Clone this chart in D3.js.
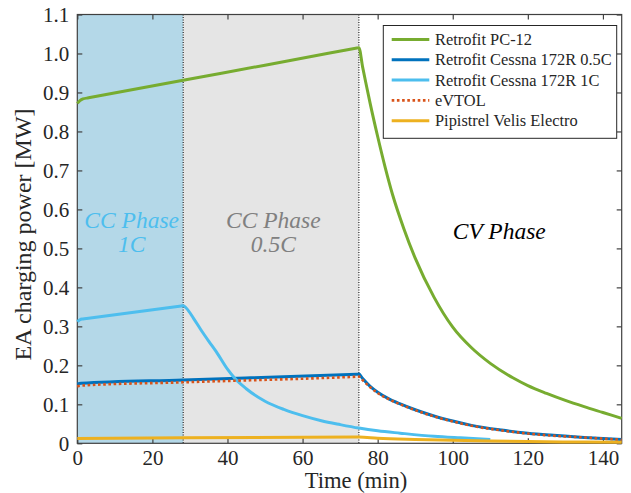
<!DOCTYPE html>
<meta charset="utf-8">
<head>
  <style>
    body { margin: 0; background: #fff; }
    .axis path { display: none; }
    .axis line { stroke: #404040; stroke-width: 1.2; }
  </style>
  <script src="https://cdn.jsdelivr.net/npm/d3@7"></script>
</head>
<body>
<script>

// values (time in min, power in MW)
var pc12T = [0, 0.7, 1.5, 3, 28.2, 50, 74.5, 75, 76, 77, 78, 80, 82, 84, 87, 90, 95, 100, 105, 110, 116, 120, 125, 130, 135, 140, 145];
var pc12P = [0.872, 0.879, 0.8835, 0.8862, 0.9313, 0.9700, 1.0141, 1.015, 0.965, 0.918, 0.872, 0.787, 0.708, 0.637, 0.55, 0.475, 0.375, 0.298, 0.245, 0.205, 0.168, 0.148, 0.128, 0.110, 0.094, 0.079, 0.064];

var c05T = [0, 1, 28.2, 74.5, 75, 76, 78, 80, 83, 86, 90, 95, 100, 105, 113, 120, 126, 135, 145];
var c05P = [0.152, 0.154, 0.1627, 0.1773, 0.1775, 0.166, 0.146, 0.131, 0.114, 0.101, 0.086, 0.070, 0.057, 0.046, 0.034, 0.026, 0.021, 0.015, 0.0095];

var c1T = [0, 0.7, 1.5, 3, 27.7, 28.2, 29, 31, 33, 35, 37, 40, 42, 45, 50, 55, 60, 65, 70, 75, 80, 86, 95, 102, 110];
var c1P = [0.312, 0.317, 0.319, 0.3209, 0.3524, 0.353, 0.347, 0.320, 0.290, 0.262, 0.235, 0.190, 0.166, 0.140, 0.108, 0.087, 0.071, 0.058, 0.048, 0.039, 0.032, 0.026, 0.018, 0.014, 0.010];

var evtolT = [0, 1, 28.2, 74.5, 75, 76, 78, 80, 83, 86, 90, 95, 100, 105, 113, 120, 126, 135, 145];
var evtolP = [0.146, 0.148, 0.1565, 0.1708, 0.171, 0.162, 0.144, 0.129, 0.113, 0.100, 0.085, 0.069, 0.056, 0.045, 0.033, 0.025, 0.020, 0.015, 0.009];

var velisT = [0, 28.2, 74.5, 75, 80, 90, 100, 110, 120, 130, 145];
var velisP = [0.012, 0.014, 0.016, 0.016, 0.013, 0.010, 0.008, 0.006, 0.0045, 0.0035, 0.0025];

var seriesNames = ["Retrofit PC-12", "Retrofit Cessna 172R 0.5C", "Retrofit Cessna 172R 1C", "eVTOL", "Pipistrel Velis Electro"];
var seriesColors = ["#77ac30", "#0072bd", "#4dbeee", "#d95319", "#edb120"];

var phaseEdges = [0, 28.2, 75];
var xTicks = [0, 20, 40, 60, 80, 100, 120, 140];
var yTicks = [0, 0.1, 0.2, 0.3, 0.4, 0.5, 0.6, 0.7, 0.8, 0.9, 1.0, 1.1];

var serif = "'Liberation Serif', 'Times New Roman', Times, serif";
var width = 631, height = 493;
var pLeft = 77.3, pRight = 621.7, pTop = 14.5, pBottom = 443.3;

var svg = d3.select("body").append("svg")
    .attr("width", width)
    .attr("height", height)
    .style("font-family", serif);

var x = d3.scaleLinear().domain([0, 145]).range([pLeft, pRight]);
var y = d3.scaleLinear().domain([0, 1.1]).range([pBottom, pTop]);

// phase shading
svg.append("rect")
    .attr("x", x(phaseEdges[0])).attr("y", pTop)
    .attr("width", x(phaseEdges[1]) - x(phaseEdges[0])).attr("height", pBottom - pTop)
    .attr("fill", "#b4d8e8");
svg.append("rect")
    .attr("x", x(phaseEdges[1])).attr("y", pTop)
    .attr("width", x(phaseEdges[2]) - x(phaseEdges[1])).attr("height", pBottom - pTop)
    .attr("fill", "#e5e5e5");

[phaseEdges[1], phaseEdges[2]].forEach(function(t) {
  svg.append("line")
      .attr("x1", x(t)).attr("x2", x(t))
      .attr("y1", pTop).attr("y2", pBottom)
      .attr("stroke", "#000").attr("stroke-width", 1)
      .attr("stroke-dasharray", "1,1.5");
});

// axes (ticks point inward like MATLAB)
var gx = svg.append("g").attr("class", "axis")
    .attr("transform", "translate(0," + pBottom + ")")
    .call(d3.axisBottom(x).tickValues(xTicks).tickSizeInner(-5).tickSizeOuter(0).tickPadding(7));
svg.append("g").attr("class", "axis")
    .attr("transform", "translate(0," + pTop + ")")
    .call(d3.axisTop(x).tickValues(xTicks).tickSizeInner(-5).tickSizeOuter(0).tickFormat(""));
var gy = svg.append("g").attr("class", "axis")
    .attr("transform", "translate(" + pLeft + ",0)")
    .call(d3.axisLeft(y).tickValues(yTicks).tickSizeInner(-5).tickSizeOuter(0).tickPadding(8)
      .tickFormat(function(d) { return d === 0 ? "0" : d.toFixed(1); }));
svg.append("g").attr("class", "axis")
    .attr("transform", "translate(" + pRight + ",0)")
    .call(d3.axisRight(y).tickValues(yTicks).tickSizeInner(-5).tickSizeOuter(0).tickFormat(""));

[gx, gy].forEach(function(g) {
  g.attr("font-family", serif).attr("font-size", 21);
  g.selectAll("text").attr("fill", "#262626");
});

svg.append("rect")
    .attr("x", pLeft).attr("y", pTop)
    .attr("width", pRight - pLeft).attr("height", pBottom - pTop)
    .attr("fill", "none").attr("stroke", "#404040").attr("stroke-width", 1.2);

// curves
var line = d3.line()
    .x(function(d) { return x(d[0]); })
    .y(function(d) { return y(d[1]); })
    .curve(d3.curveMonotoneX);

var allT = [pc12T, c05T, c1T, evtolT, velisT];
var allP = [pc12P, c05P, c1P, evtolP, velisP];

allT.forEach(function(ts, i) {
  var pts = ts.map(function(t, j) { return [t, allP[i][j]]; });
  svg.append("path")
      .datum(pts)
      .attr("d", line)
      .attr("fill", "none")
      .attr("stroke", seriesColors[i])
      .attr("stroke-width", i == 3 ? 2.6 : 3)
      .attr("stroke-dasharray", i == 3 ? "2.6,2.6" : null)
      .attr("stroke-linejoin", "round");
});

// phase labels
var phaseText = [
  {lines: ["CC Phase", "1C"], cx: 131.7, color: "#4dbeee"},
  {lines: ["CC Phase", "0.5C"], cx: 273.3, color: "#808080"}
];
phaseText.forEach(function(p) {
  p.lines.forEach(function(s, k) {
    svg.append("text")
        .attr("x", p.cx).attr("y", 228 + k * 24)
        .attr("text-anchor", "middle")
        .style("font-family", serif).style("font-style", "italic").style("font-size", "23.5px")
        .attr("fill", p.color)
        .text(s);
  });
});
svg.append("text")
    .attr("x", 499.3).attr("y", 239)
    .attr("text-anchor", "middle")
    .style("font-family", serif).style("font-style", "italic").style("font-size", "23.5px")
    .attr("fill", "#000")
    .text("CV Phase");

// axis titles
svg.append("text")
    .attr("x", 356).attr("y", 488)
    .attr("text-anchor", "middle")
    .style("font-size", "22.6px")
    .attr("fill", "#262626")
    .text("Time (min)");
svg.append("text")
    .attr("transform", "translate(31,234.5) rotate(-90)")
    .attr("text-anchor", "middle")
    .style("font-size", "24px")
    .attr("fill", "#262626")
    .text("EA charging power [MW]");

// legend
var legend = svg.append("g");
legend.append("rect")
    .attr("x", 383.3).attr("y", 25.5)
    .attr("width", 233.4).attr("height", 112.8)
    .attr("fill", "#fff").attr("stroke", "#262626").attr("stroke-width", 1);

seriesNames.forEach(function(name, i) {
  var ly = 39.5 + i * 20.3;
  legend.append("line")
      .attr("x1", 391.7).attr("x2", 429.3)
      .attr("y1", ly).attr("y2", ly)
      .attr("stroke", seriesColors[i])
      .attr("stroke-width", i == 3 ? 2.6 : 3)
      .attr("stroke-dasharray", i == 3 ? "2.6,2.6" : null);
  legend.append("text")
      .attr("x", 435).attr("y", ly)
      .attr("dy", "0.34em")
      .style("font-size", "16.4px")
      .attr("fill", "#262626")
      .text(name);
});

</script>
</body>
